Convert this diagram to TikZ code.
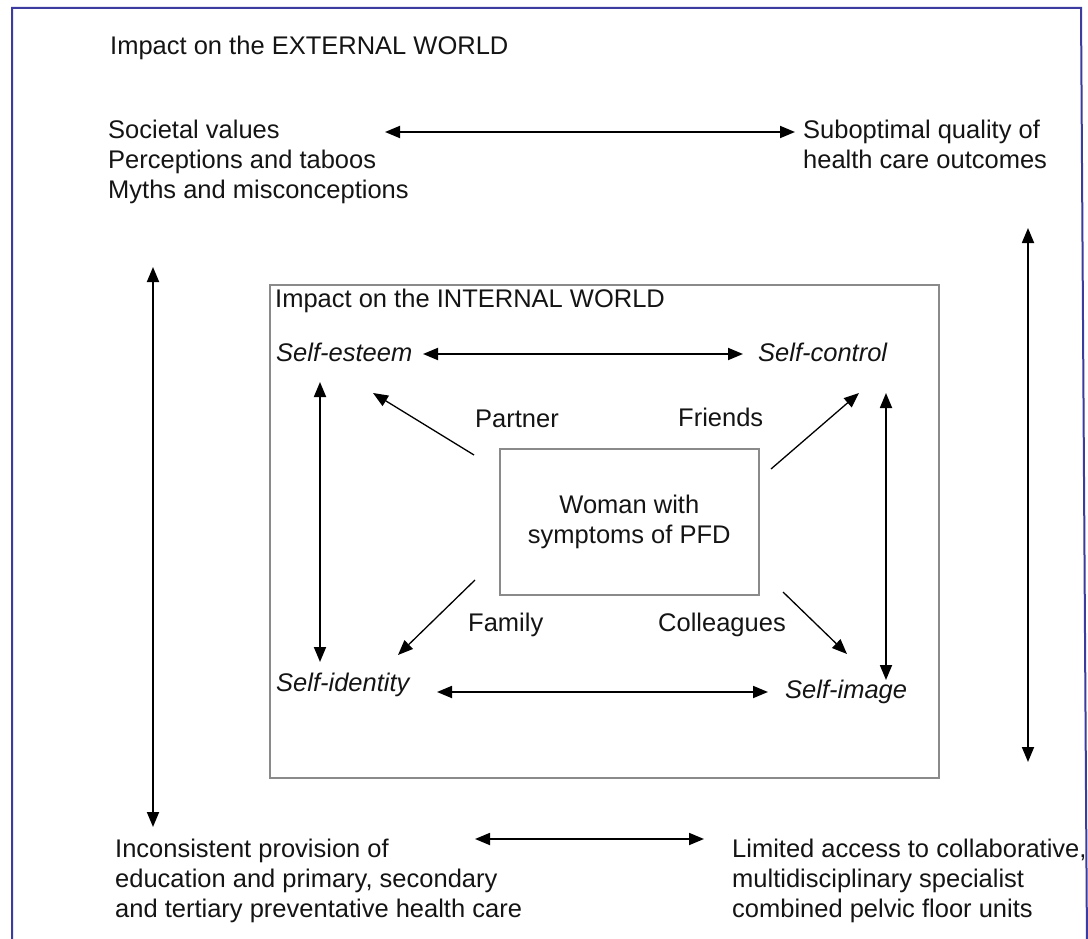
\documentclass[tikz,border=0pt]{standalone}
\usepackage{fontspec}
\setmainfont{Liberation Sans}
\usetikzlibrary{arrows.meta}
\definecolor{framec}{HTML}{3C3CA0}
\definecolor{boxgrey}{HTML}{8A8A8A}
\tikzset{
  txt/.style={anchor=base west, inner sep=0pt, font=\fontsize{25.5}{30}\selectfont, text=black!92},
  itxt/.style={txt, font=\fontsize{25.5}{30}\selectfont\itshape},
  tip/.style={Triangle[length=15pt,width=12pt]},
  dbl/.style={line width=1.8pt, {Triangle[length=15pt,width=12pt]}-{Triangle[length=15pt,width=12pt]}},
  sgl/.style={line width=1.3pt, -{Triangle[length=15pt,width=12pt]}},
  greybox/.style={draw=boxgrey, line width=1.6pt}
}
\begin{document}
\begin{tikzpicture}[x=1pt,y=-1pt]
\useasboundingbox (0,0) rectangle (1088,939);
\begin{scope}
\clip (0,0) rectangle (1088,939);
\draw[framec, line width=2pt] (12,948) -- (12,8) -- (1081,8) -- (1087,948);
\end{scope}

% boxes
\node[greybox, minimum width=669pt, minimum height=493pt, anchor=north west, inner sep=0pt] (inner) at (269,284) {};
\node[greybox, minimum width=259pt, minimum height=146pt, anchor=north west, inner sep=0pt] (centre) at (499,448) {};
\node[align=center, font=\fontsize{25.5}{30}\selectfont, text=black!92, inner sep=0pt] (woman) at (centre.center) {Woman with\\symptoms of PFD};

% external texts
\node[txt] (ext) at (110,55) {Impact on the EXTERNAL WORLD};
\node[txt] (soc) at (108,139) {\begin{tabular}[t]{@{}l@{}}Societal values\\Perceptions and taboos\\Myths and misconceptions\end{tabular}};
\node[txt] (sub) at (803,139) {\begin{tabular}[t]{@{}l@{}}Suboptimal quality of\\health care outcomes\end{tabular}};
\node[txt] (inc) at (115,857) {\begin{tabular}[t]{@{}l@{}}Inconsistent provision of\\education and primary, secondary\\and tertiary preventative health care\end{tabular}};
\node[txt] (lim) at (732,857) {\begin{tabular}[t]{@{}l@{}}Limited access to collaborative,\\multidisciplinary specialist\\combined pelvic floor units\end{tabular}};

% internal texts
\node[txt] (int) at (275,307) {Impact on the INTERNAL WORLD};
\node[itxt] (sest) at (276,361) {Self-esteem};
\node[itxt] (sctl) at (758,361) {Self-control};
\node[itxt] (sid) at (276,691) {Self-identity};
\node[itxt] (simg) at (785,698) {Self-image};
\node[txt] (partner) at (475,427) {Partner};
\node[txt] (friends) at (678,426) {Friends};
\node[txt] (family) at (468,631) {Family};
\node[txt] (coll) at (658,631) {Colleagues};

% arrow end points
\coordinate (eTL) at (385,132);  \coordinate (eTR) at (795,132);
\coordinate (eRT) at (1028,228); \coordinate (eRB) at (1028,762);
\coordinate (eLT) at (153,267);  \coordinate (eLB) at (153,827);
\coordinate (eBL) at (475,839);  \coordinate (eBR) at (704,839);
\coordinate (iTL) at (423,354);  \coordinate (iTR) at (743,354);
\coordinate (iBL) at (437,692);  \coordinate (iBR) at (768,692);
\coordinate (iLT) at (320,382);  \coordinate (iLB) at (320,662);
\coordinate (iRT) at (886,393);  \coordinate (iRB) at (886,680);
\coordinate (pT) at (474,455);   \coordinate (pH) at (373,393);
\coordinate (fT) at (771,469);   \coordinate (fH) at (859,393);
\coordinate (faT) at (475,580);  \coordinate (faH) at (398,655);
\coordinate (cT) at (783,592);   \coordinate (cH) at (847,654);

\draw[dbl] (eTL) -- (eTR);
\draw[dbl] (eRT) -- (eRB);
\draw[dbl] (eLT) -- (eLB);
\draw[dbl] (eBL) -- (eBR);
\draw[dbl] (iTL) -- (iTR);
\draw[dbl] (iBL) -- (iBR);
\draw[dbl] (iLT) -- (iLB);
\draw[dbl] (iRT) -- (iRB);
\draw[sgl] (pT) -- (pH);
\draw[sgl] (fT) -- (fH);
\draw[sgl] (faT) -- (faH);
\draw[sgl] (cT) -- (cH);
\end{tikzpicture}
\end{document}
